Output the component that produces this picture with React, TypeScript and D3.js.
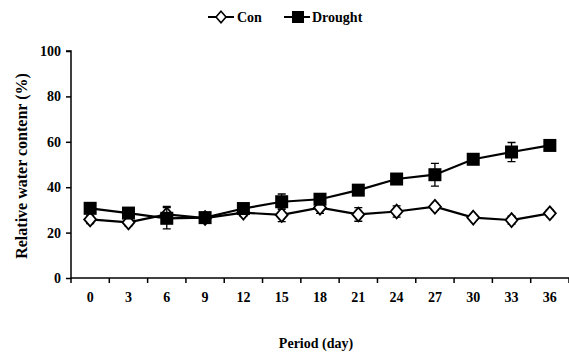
import React, { useEffect, useRef } from 'react';
import * as d3 from 'd3';

// 数据
const periods = ['0', '3', '6', '9', '12', '15', '18', '21', '24', '27', '30', '33', '36'];
const conValues = [25.8, 24.5, 28.0, 26.4, 28.8, 27.8, 31.0, 28.0, 29.3, 31.4, 26.6, 25.5, 28.5];
const conErrors = [1.8, 1.5, 3.5, 1.2, 1.5, 3.0, 2.5, 3.0, 2.5, 1.5, 1.0, 1.8, 1.5];
const droughtValues = [30.7, 28.6, 26.3, 26.6, 30.6, 33.6, 34.7, 38.7, 43.6, 45.5, 52.3, 55.5, 58.4];
const droughtErrors = [1.2, 1.2, 4.7, 1.0, 1.2, 3.4, 1.5, 1.0, 1.0, 5.0, 2.0, 4.2, 1.0];
const yTicks = [0, 20, 40, 60, 80, 100];

const FONT = '"Liberation Serif", "Times New Roman", serif';

const App = () => {
    const svgRef = useRef<SVGSVGElement>(null);

    useEffect(() => {
        const svg = d3.select(svgRef.current);
        svg.selectAll('*').remove();

        const left = 71, right = 569, top = 51, bottom = 278;

        const x = d3.scaleBand().domain(periods).range([left, right]);
        const y = d3.scaleLinear().domain([0, 100]).range([bottom, top]);
        const cx = (i: number) => (x(periods[i]) as number) + x.bandwidth() / 2;

        // y 轴
        const yAxis = svg.append('g')
            .attr('transform', `translate(${left},0)`)
            .call(d3.axisLeft(y).tickValues(yTicks).tickSize(5).tickPadding(5).tickFormat(d3.format('d')));
        yAxis.select('.domain').attr('stroke', '#000').attr('stroke-width', 1.5).attr('d', `M-5,${top}H0V${bottom}`);
        yAxis.selectAll('line').attr('stroke-width', 1.5);
        yAxis.selectAll('text')
            .attr('font-family', FONT).attr('font-weight', 'bold').attr('font-size', 14).attr('fill', '#000');

        // x 轴 (刻度在类别边界)
        const xAxis = svg.append('g')
            .attr('transform', `translate(0,${bottom})`)
            .call(d3.axisBottom(x).tickSize(0).tickPadding(14));
        xAxis.select('.domain').attr('stroke', '#000').attr('stroke-width', 1.5).attr('d', `M${left},0H${right}`);
        xAxis.selectAll('text')
            .attr('font-family', FONT).attr('font-weight', 'bold').attr('font-size', 14).attr('fill', '#000');
        xAxis.selectAll('.bound')
            .data(periods.map((_, i) => i).concat([periods.length]))
            .enter().append('line')
            .attr('x1', i => left + i * x.step()).attr('x2', i => left + i * x.step())
            .attr('y1', 0).attr('y2', 5)
            .attr('stroke', '#000').attr('stroke-width', 1.5);

        // 坐标轴标题
        svg.append('text')
            .attr('transform', `translate(27,166) rotate(-90)`)
            .attr('text-anchor', 'middle')
            .attr('font-family', FONT).attr('font-weight', 'bold').attr('font-size', 16)
            .text('Relative water contenr (%)');
        svg.append('text')
            .attr('x', 316).attr('y', 348)
            .attr('text-anchor', 'middle')
            .attr('font-family', FONT).attr('font-weight', 'bold').attr('font-size', 14)
            .text('Period (day)');

        const line = d3.line<number>().x((_, i) => cx(i)).y(d => y(d));
        const diamond = (s: number) => `M0,${-s * 1.15}L${s},0L0,${s * 1.15}L${-s},0Z`;

        const drawSeries = (values: number[], errors: number[], marker: 'diamond' | 'square') => {
            const g = svg.append('g');
            // 误差线
            values.forEach((v, i) => {
                const x0 = cx(i);
                g.append('path')
                    .attr('d', `M${x0},${y(v - errors[i])}V${y(v + errors[i])}M${x0 - 4},${y(v - errors[i])}h8M${x0 - 4},${y(v + errors[i])}h8`)
                    .attr('stroke', '#000').attr('stroke-width', 1.3).attr('fill', 'none');
            });
            g.append('path').datum(values).attr('d', line)
                .attr('fill', 'none').attr('stroke', '#000').attr('stroke-width', 2.2);
            values.forEach((v, i) => {
                if (marker === 'square') {
                    g.append('rect').attr('x', cx(i) - 6.5).attr('y', y(v) - 6.5)
                        .attr('width', 13).attr('height', 13).attr('fill', '#000');
                } else {
                    g.append('path').attr('d', diamond(6))
                        .attr('transform', `translate(${cx(i)},${y(v)})`)
                        .attr('fill', '#fff').attr('stroke', '#000').attr('stroke-width', 1.8);
                }
            });
        };

        drawSeries(conValues, conErrors, 'diamond');
        drawSeries(droughtValues, droughtErrors, 'square');

        // 图例
        const lg = svg.append('g');
        lg.append('line').attr('x1', 208).attr('x2', 234).attr('y1', 17).attr('y2', 17)
            .attr('stroke', '#000').attr('stroke-width', 2);
        lg.append('path').attr('d', diamond(5)).attr('transform', 'translate(221,17)')
            .attr('fill', '#fff').attr('stroke', '#000').attr('stroke-width', 1.6);
        lg.append('text').attr('x', 237).attr('y', 22)
            .attr('font-family', FONT).attr('font-weight', 'bold').attr('font-size', 14).text('Con');
        lg.append('line').attr('x1', 284).attr('x2', 310).attr('y1', 17).attr('y2', 17)
            .attr('stroke', '#000').attr('stroke-width', 2);
        lg.append('rect').attr('x', 292).attr('y', 11).attr('width', 12).attr('height', 12).attr('fill', '#000');
        lg.append('text').attr('x', 312).attr('y', 22)
            .attr('font-family', FONT).attr('font-weight', 'bold').attr('font-size', 14).text('Drought');
    }, []);

    return (
        <svg ref={svgRef} width={569} height={356}
            style={{ position: 'absolute', left: 0, top: 0, background: '#fff' }} />
    );
};

export default App;
